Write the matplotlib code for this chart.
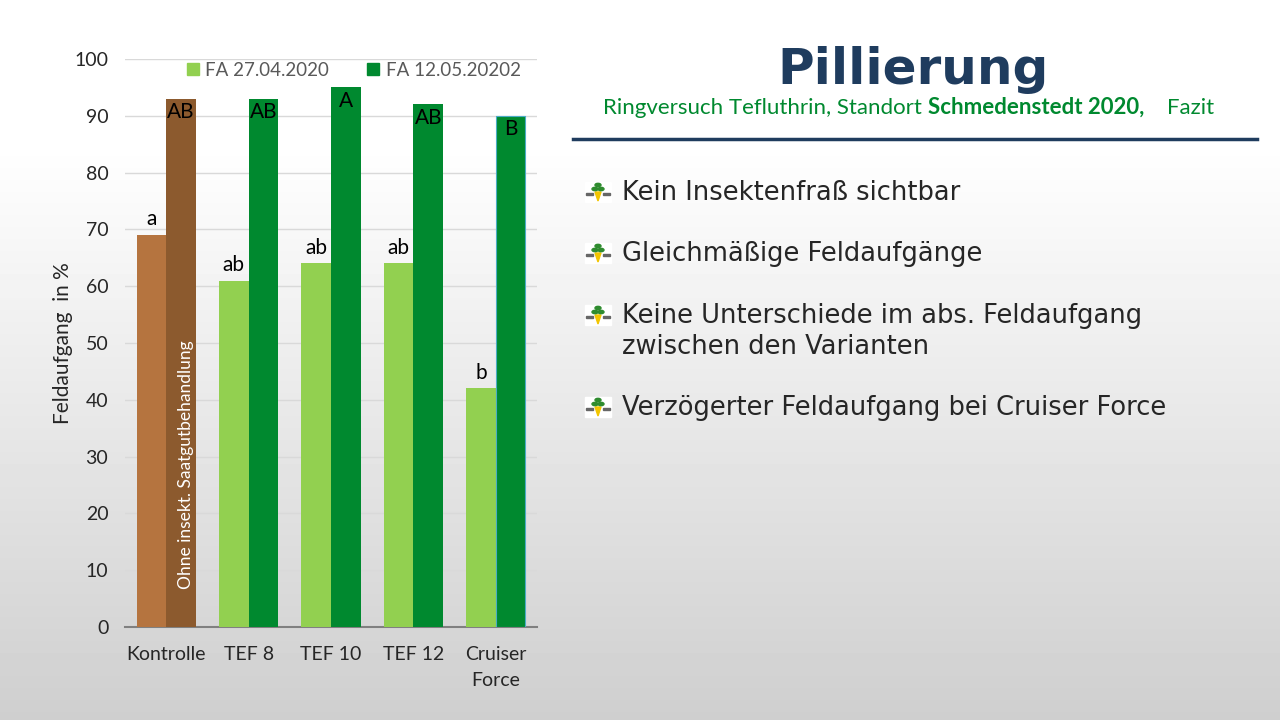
import numpy as np
import matplotlib.pyplot as plt
from matplotlib.patches import Rectangle, Polygon

# data
categories = ["Kontrolle", "TEF 8", "TEF 10", "TEF 12", "Cruiser\nForce"]
fa_early = [69, 61, 64, 64, 42]
fa_late = [93, 93, 95, 92, 90]
letters_early = ["a", "ab", "ab", "ab", "b"]
letters_late = ["AB", "AB", "A", "AB", "B"]
series_names = ["FA 27.04.2020", "FA 12.05.20202"]
bullet_lines = [["Kein Insektenfraß sichtbar"],
                ["Gleichmäßige Feldaufgänge"],
                ["Keine Unterschiede im abs. Feldaufgang", "zwischen den Varianten"],
                ["Verzögerter Feldaufgang bei Cruiser Force"]]

light_green = "#92D050"
dark_green = "#00892F"
light_brown = "#B5743F"
dark_brown = "#8C5A2E"

fig = plt.figure(figsize=(12.8, 7.2), dpi=100)

# background gradient
bg = fig.add_axes([0, 0, 1, 1], zorder=-5)
rows = np.linspace(0, 1, 720)
shade = np.where(rows < 0.2, 1.0, 1.0 - 0.19 * ((rows - 0.2) / 0.8))
img = np.repeat(shade[:, None], 10, axis=1)
bg.imshow(img, cmap="gray", vmin=0, vmax=1, aspect="auto", extent=[0, 1, 0, 1], origin="upper")
bg.axis("off")

# chart
ax = fig.add_axes([125 / 1280, 1 - 627 / 720, 412 / 1280, 568 / 720])
ax.patch.set_alpha(0)
x = np.arange(len(categories))
w = 0.36
c1 = [light_brown] + [light_green] * 4
c2 = [dark_brown] + [dark_green] * 4
b1 = ax.bar(x - w / 2, fa_early, w, color=c1, label=series_names[0], zorder=3)
b2 = ax.bar(x + w / 2, fa_late, w, color=c2, label=series_names[1], zorder=3)
b2[-1].set_edgecolor("#4BACC6")
b2[-1].set_linewidth(0.8)

for xi, v, t in zip(x, fa_early, letters_early):
    ax.text(xi - w / 2, v + 1.0, t, ha="center", va="bottom", fontsize=15, family="Lato", color="black", zorder=4)
for xi, v, t in zip(x, fa_late, letters_late):
    ax.text(xi + w / 2, v - 0.6, t, ha="center", va="top", fontsize=15, family="Lato", color="black", zorder=4)

ax.text(x[0] + w / 2 + 0.06, 28.5, "Ohne insekt. Saatgutbehandlung", rotation=90, ha="center", va="center",
        fontsize=12.5, family="Lato", color="white", zorder=4)

ax.set_xlim(-0.5, 4.5)
ax.set_ylim(0, 100)
ax.set_yticks(range(0, 101, 10))
ax.set_xticks(x)
ax.set_xticklabels(categories, fontsize=14, family="Lato", color="#262626", linespacing=1.6)
ax.tick_params(axis="y", labelsize=14, colors="#262626", length=0, pad=12)
ax.tick_params(axis="x", length=0, pad=14)
for lab in ax.get_yticklabels():
    lab.set_family("Lato")
ax.grid(axis="y", color="#D9D9D9", linewidth=1, zorder=0)
for s in ["top", "right", "left"]:
    ax.spines[s].set_visible(False)
ax.spines["bottom"].set_color("#808080")
ax.spines["bottom"].set_linewidth(1.5)
ax.set_ylabel("Feldaufgang  in %", fontsize=15, family="Lato", color="#262626", labelpad=1)

leg = ax.legend(handles=[Rectangle((0, 0), 1, 1, color=light_green), Rectangle((0, 0), 1, 1, color=dark_green)],
                labels=series_names, loc="upper center", bbox_to_anchor=(0.555, 1.025), ncol=2, frameon=False,
                handlelength=0.65, handleheight=0.65, handletextpad=0.35, columnspacing=2.0,
                prop={"family": "Lato", "size": 13.5})
for t in leg.get_texts():
    t.set_color("#595959")

# right side text
fig.text(913 / 1280, 1 - 70 / 720, "Pillierung", ha="center", va="center", fontsize=36, fontweight="bold",
         color="#1F3C5E", family="DejaVu Sans")

# subtitle in three pieces on one baseline
sub_base = 1 - 114 / 720
pieces = [("Ringversuch Tefluthrin, Standort ", "normal"),
          ("Schmedenstedt 2020,", "bold"),
          ("    Fazit", "normal")]
xpos = 603 / 1280
renderer = fig.canvas.get_renderer()
for txt, wt in pieces:
    tt = fig.text(xpos, sub_base, txt, ha="left", va="baseline", fontsize=16, fontweight=wt,
                  color="#00892F", family="Lato")
    ext = tt.get_window_extent(renderer=renderer)
    xpos = ext.x1 / fig.bbox.width

fig.add_artist(plt.Line2D([573 / 1280, 1257 / 1280], [1 - 139 / 720] * 2, color="#1F3C5E", linewidth=2.5))

ys = [193, 254, 316, 408]
for yy, lines in zip(ys, bullet_lines):
    fy = 1 - yy / 720
    for k, line in enumerate(lines):
        fig.text(622 / 1280, fy - k * 31 / 720, line, ha="left", va="center", fontsize=18.5,
                 color="#262626", family="DejaVu Sans")
    # small logo bullet
    cx, cy = 598 / 1280, fy
    fig.add_artist(Rectangle((cx - 13 / 1280, cy - 9 / 720), 26 / 1280, 20 / 720, color="white"))
    fig.add_artist(Polygon([(cx - 3 / 1280, cy + 1 / 720), (cx + 3 / 1280, cy + 1 / 720), (cx, cy - 8 / 720)],
                           closed=True, color="#F2C500"))
    for dx, dy in [(-3, 4), (3, 4), (0, 8)]:
        fig.add_artist(plt.Circle((cx + dx / 1280, cy + dy / 720), 3 / 1280, color="#2E8B2E"))
    fig.add_artist(Rectangle((cx - 12 / 1280, cy - 2 / 720), 7 / 1280, 2 / 720, color="#666666"))
    fig.add_artist(Rectangle((cx + 5 / 1280, cy - 2 / 720), 7 / 1280, 2 / 720, color="#666666"))

fig.savefig("out.png", dpi=100)
